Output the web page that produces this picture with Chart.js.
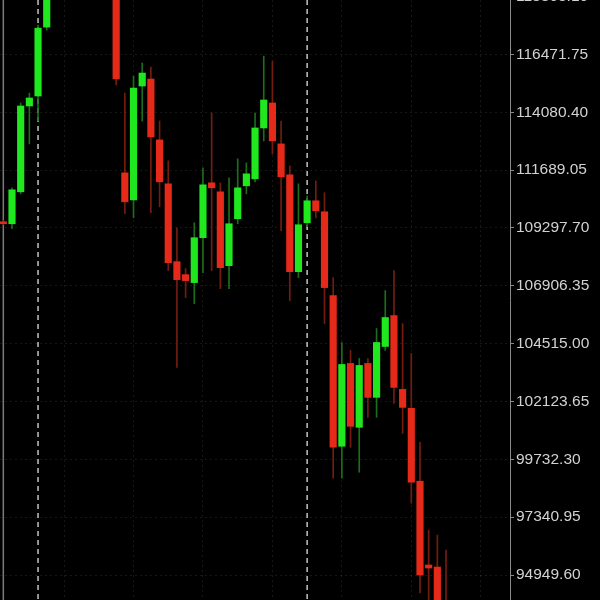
<!DOCTYPE html>
<html>
<head>
<meta charset="utf-8">
<script src="https://cdn.jsdelivr.net/npm/chart.js@4.4.1/dist/chart.umd.min.js"></script>
<style>
  html, body { margin: 0; padding: 0; background: #000; }
</style>
</head>
<body>
<canvas id="grafico" width="600" height="600"></canvas>
<script>
// ================= DADOS =================
// candle position (one per day, index 3 = first day of a month, 34 = next month)
const candleIdx = [-1, 0, 1, 2, 3, 4, 5, 6, 7, 8, 9, 10, 11, 12, 13, 14, 15, 16, 17, 18, 19, 20,
  21, 22, 23, 24, 25, 26, 27, 28, 29, 30, 31, 32, 33, 34, 35, 36, 37, 38, 39, 40, 41, 42, 43, 44,
  45, 46, 47, 48, 49, 50];

const opens = [109554, 109471, 110791, 114339, 114751, 117598, 120400, 122200, 122300, 123400, 124700,
  121400, 123300, 121600, 111575, 110461, 115164, 115453, 112936, 111121, 107904, 107368, 107038,
  108894, 111163, 110791, 107739, 109678, 111039, 111328, 113431, 114463, 112771, 111493, 107491,
  109513, 110420, 109966, 106501, 100273, 103696, 101056, 103696, 102294, 104398, 105676, 102624,
  101840, 98829, 95364, 95281, 93400];

const highs = [109600, 110956, 114463, 114875, 117680, 120800, 123800, 122800, 125500, 126100, 125100,
  124100, 123700, 122500, 114875, 115576, 116113, 115948, 113720, 112070, 109306, 107615, 109513,
  111781, 114050, 111163, 111369, 112153, 111988, 114050, 116401, 116195, 113720, 111864, 111121,
  110626, 111245, 110750, 107244, 104563, 104233, 103902, 103902, 105140, 106708, 107533, 105346,
  104109, 100438, 96808, 96601, 95983];

const lows = [109430, 109265, 110709, 112771, 113720, 117474, 119500, 121200, 121900, 123000, 120700,
  121000, 119900, 115205, 109884, 109719, 113720, 109925, 110173, 107533, 103531, 106419, 106171,
  107450, 107533, 106790, 106790, 109471, 110709, 111204, 112895, 112359, 109183, 106295, 107244,
  109348, 109719, 105346, 98952, 98952, 100231, 99200, 101469, 101469, 104233, 102046, 100809,
  97921, 94209, 93500, 92800, 91500];

const closes = [109471, 110874, 114339, 114669, 117556, 120400, 122200, 122300, 123400, 124700, 121400,
  123300, 121600, 115453, 110379, 115081, 115700, 113060, 111204, 107863, 107161, 107120, 108894,
  111080, 110956, 107656, 109471, 110956, 111534, 113431, 114586, 112895, 111410, 107491, 109430,
  110420, 110008, 106831, 100231, 103655, 101097, 103614, 102294, 104563, 105594, 102706, 101881,
  98788, 94951, 95240, 93400, 92300];

// eixo de preço (direita)
const yTickValues = [94949.60, 97340.95, 99732.30, 102123.65, 104515.00, 106906.35, 109297.70,
  111689.05, 114080.40, 116471.75, 118863.10];
const yMin = 93918;
const yMax = 118720;

// janela visível no eixo x
const xMin = -1.382;
const xMax = 57.37;
const xGridIdx = [6, 14, 22, 30, 38, 46, 54];
const separatorIdx = [3, 34];

// ================= CORES =================
const corAlta = "#1fe81f";
const corBaixa = "#e62a1a";
const pavioAlta = "#1c6e1c";
const pavioBaixa = "#741d0f";
const corGrade = "rgba(255,255,255,0.09)";
const corEixo = "#8a8a8a";

const isUp = candleIdx.map((_, k) => closes[k] >= opens[k]);

// ================= PLUGIN: separadores e rótulo cortado =================
const extras = {
  id: "extras",
  beforeDatasetsDraw(chart) {
    const { ctx, chartArea, scales } = chart;
    ctx.save();
    ctx.beginPath();
    ctx.rect(chartArea.left, chartArea.top, chartArea.right - chartArea.left, chartArea.bottom - chartArea.top);
    ctx.clip();
    // linha cinza à esquerda
    ctx.strokeStyle = "#7a7a7a";
    ctx.lineWidth = 1.5;
    const xl = scales.x.getPixelForValue(candleIdx[0]);
    ctx.beginPath();
    ctx.moveTo(xl, chartArea.top);
    ctx.lineTo(xl, chartArea.bottom);
    ctx.stroke();
    // separadores de período
    ctx.strokeStyle = "#c4c4c4";
    ctx.setLineDash([5, 4]);
    separatorIdx.forEach(i => {
      const x = scales.x.getPixelForValue(i);
      ctx.beginPath();
      ctx.moveTo(x, chartArea.top);
      ctx.lineTo(x, chartArea.bottom);
      ctx.stroke();
    });
    ctx.restore();
  },
  afterDraw(chart) {
    const { ctx, scales } = chart;
    const y = scales.y;
    ctx.save();
    ctx.font = "15.5px 'Liberation Sans'";
    ctx.fillStyle = "#d2d2d2";
    ctx.textAlign = "left";
    ctx.textBaseline = "middle";
    yTickValues.forEach(v => {
      if (v > yMax || v < yMin) {
        ctx.fillText(v.toFixed(2), y.left + 6, y.getPixelForValue(v));
      }
    });
    ctx.restore();
  }
};

// ================= GRÁFICO =================
let ctx = document.getElementById("grafico");

let chart = new Chart(ctx, {
  type: "bar",
  data: {
    datasets: [
      {
        label: "Corpo",
        data: candleIdx.map((x, k) => ({ x: x, y: [opens[k], closes[k]] })),
        backgroundColor: candleIdx.map((_, k) => isUp[k] ? corAlta : corBaixa),
        borderWidth: 0,
        barThickness: 6.5,
        grouped: false,
        order: 0
      },
      {
        label: "Pavio",
        data: candleIdx.map((x, k) => ({ x: x, y: [lows[k], highs[k]] })),
        backgroundColor: candleIdx.map((_, k) => isUp[k] ? pavioAlta : pavioBaixa),
        borderWidth: 0,
        barThickness: 1,
        grouped: false,
        order: 1
      }
    ]
  },
  options: {
    responsive: false,
    animation: false,
    layout: { padding: 0 },
    plugins: {
      legend: { display: false },
      tooltip: { enabled: false }
    },
    scales: {
      x: {
        type: "linear",
        min: xMin,
        max: xMax,
        offset: false,
        afterBuildTicks: s => { s.ticks = xGridIdx.map(v => ({ value: v })); },
        ticks: { display: false },
        grid: { color: corGrade, drawTicks: false, offset: false },
        border: { display: false, dash: [2, 3] }
      },
      y: {
        type: "linear",
        position: "right",
        min: yMin,
        max: yMax,
        afterBuildTicks: s => {
          s.ticks = yTickValues.filter(v => v >= yMin && v <= yMax).map(v => ({ value: v }));
        },
        afterFit: s => {
          s.width = 90;
          s.paddingTop = 0;
          s.paddingBottom = 0;
        },
        ticks: {
          color: "#d2d2d2",
          font: { family: "'Liberation Sans'", size: 15.5 },
          padding: 2,
          autoSkip: false,
          callback: v => Number(v).toFixed(2)
        },
        grid: { color: corGrade, tickColor: corEixo, tickLength: 4 },
        border: { color: corEixo, width: 1, dash: [2, 3] }
      }
    }
  },
  plugins: [extras]
});
</script>
</body>
</html>
